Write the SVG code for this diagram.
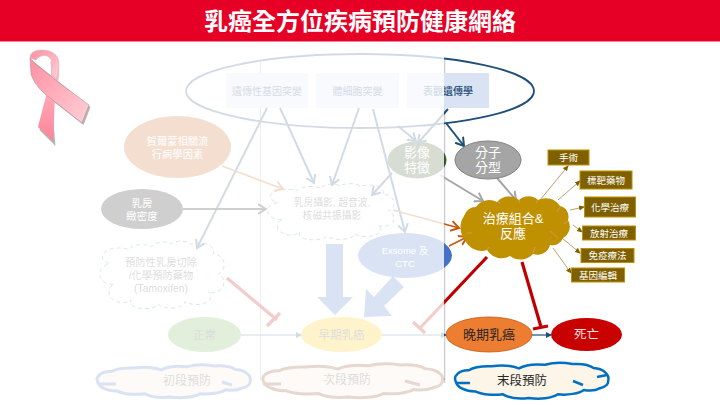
<svg xmlns="http://www.w3.org/2000/svg" xmlns:xlink="http://www.w3.org/1999/xlink" width="720" height="405" viewBox="0 0 720 405">
<style>
text{font-family:"Liberation Sans","Noto Sans CJK TC",sans-serif;text-anchor:middle}
.w{fill:#fff}.d{fill:#505050}
.box{fill:#dae3f3}
.tag rect{fill:#7f6000;stroke:#bf9000;stroke-width:1}
.tag text{fill:#fff;font-size:9.5px}
.thin{fill:none;stroke:#a58a45;stroke-width:.8;marker-end:url(#mT)}
.blue{fill:none;stroke:#1f4e79;stroke-width:2;marker-end:url(#mB)}
.gray{fill:none;stroke:#a5a5a5;stroke-width:2;marker-end:url(#mG)}
.dark{fill:none;stroke:#111;stroke-width:2;marker-end:url(#mK)}
.or{fill:none;stroke:#c55a11;stroke-width:1.6;marker-end:url(#mO)}
.red{fill:none;stroke:#c00000;stroke-width:3.2}
.big{fill:#4472c4}
.cl{vector-effect:non-scaling-stroke}
.flow{stroke:#1f4e79;stroke-width:1.2;fill:none;marker-end:url(#mS)}
</style>
<defs>
<marker id="mT" markerWidth="6" markerHeight="6" refX="5" refY="3" orient="auto" markerUnits="userSpaceOnUse"><path d="M0 .4L6 3L0 5.600z" fill="#7f6000"/></marker>
<marker id="mB" markerWidth="10" markerHeight="12" refX="8" refY="6" orient="auto" markerUnits="userSpaceOnUse"><path d="M0 1L8 6L0 11" fill="none" stroke="#1f4e79" stroke-width="2"/></marker>
<marker id="mS" markerWidth="6" markerHeight="6" refX="5" refY="3" orient="auto" markerUnits="userSpaceOnUse"><path d="M0 0L6 3L0 6z" fill="#1f4e79"/></marker>
<marker id="mG" markerWidth="10" markerHeight="12" refX="8" refY="6" orient="auto" markerUnits="userSpaceOnUse"><path d="M0 1L8 6L0 11" fill="none" stroke="#a5a5a5" stroke-width="2"/></marker>
<marker id="mK" markerWidth="10" markerHeight="12" refX="8" refY="6" orient="auto" markerUnits="userSpaceOnUse"><path d="M0 1L8 6L0 11" fill="none" stroke="#111" stroke-width="2"/></marker>
<marker id="mO" markerWidth="10" markerHeight="12" refX="8" refY="6" orient="auto" markerUnits="userSpaceOnUse"><path d="M0 1L8 6L0 11" fill="none" stroke="#c55a11" stroke-width="2"/></marker>
<linearGradient id="rb1" x1="0" y1="0" x2="1" y2="1"><stop offset="0" stop-color="#ff8fa3"/><stop offset="1" stop-color="#ffd0d6"/></linearGradient>
<linearGradient id="rb2" x1="0" y1="0" x2="0" y2="1"><stop offset="0" stop-color="#ffc4cd"/><stop offset="1" stop-color="#ff8297"/></linearGradient>
<path id="cloud" class="cl" d="M12 64A9 14 0 0 1 9 36A13 12 0 0 1 24 16A11 10 0 0 1 42 12A9 9 0 0 1 57 8A10 10 0 0 1 73 9A11 12 0 0 1 90 22A9 15 0 0 1 94 50A8 13 0 0 1 86 74A10 10 0 0 1 68 88A11 9 0 0 1 47 92A11 9 0 0 1 26 86A9 13 0 0 1 12 64Z"/>
<path id="wide" class="cl" d="M3 52A8 24 0 0 1 11 20A14 20 0 0 1 25 9A14 20 0 0 1 42 15A14 22 0 0 1 58 5A14 20 0 0 1 75 3A12 20 0 0 1 88 14A10 30 0 0 1 97 50A10 22 0 0 1 92 70A8 14 0 0 1 82 75A14 24 0 0 1 66 87A14 24 0 0 1 48 97A14 24 0 0 1 32 87A14 20 0 0 1 15 79A12 30 0 0 1 3 52Z"/>
</defs>
<rect width="720" height="405" fill="#fff"/>
<g id="title"><rect width="720" height="41.500" fill="#e60026"/><text x="360" y="29.500" font-size="24" font-weight="700" fill="#fff">乳癌全方位疾病預防健康網絡</text></g>
<path d="M260.500 60V380" stroke="#b0b0b0" stroke-width="1"/>
<path d="M444.500 60V383" stroke="#c9ced4" stroke-width="1.600"/>
<g id="n-epi-ring"><ellipse cx="360" cy="91" rx="174" ry="37" fill="none" stroke="#1f4e79" stroke-width="1.800"/></g>
<g id="n-germline"><rect class="box" x="226" y="73" width="82" height="35"/><text x="267" y="94.500" font-size="10" fill="#1f4e79">遺傳性基因突變</text></g>
<g id="n-somatic"><rect class="box" x="316" y="73" width="83" height="35"/><text x="357.500" y="94.500" font-size="10" fill="#1f4e79">體細胞突變</text></g>
<g id="n-epigen"><rect class="box" x="407" y="73" width="82" height="35"/><text x="448" y="94.500" font-size="10" font-weight="500" fill="#1f4e79">表觀遺傳學</text></g>
<g id="n-hormone"><ellipse cx="177.500" cy="147" rx="53.500" ry="31" fill="#c55a11"/><text font-size="10.300" class="w"><tspan x="177.500" y="145">賀爾蒙相關流</tspan><tspan x="177.500" y="158">行病學因素</tspan></text></g>
<g id="n-density"><ellipse cx="142" cy="209" rx="41" ry="20" fill="#111"/><text font-size="10.500" class="w"><tspan x="142" y="207">乳房</tspan><tspan x="142" y="220">緻密度</tspan></text></g>
<g id="n-imaging"><use xlink:href="#cloud" href="#cloud" transform="translate(266 181) scale(1.3 .6)" fill="#fff" stroke="#4472c4" stroke-width="1" stroke-dasharray="4 3"/><text font-size="9.800" class="d"><tspan x="332" y="206">乳房攝影, 超音波,</tspan><tspan x="332" y="219">核磁共振攝影</tspan></text></g>
<g id="n-feature"><ellipse cx="417" cy="160" rx="29.500" ry="18.500" fill="#375623"/><text font-size="13" class="w"><tspan x="417" y="157">影像</tspan><tspan x="417" y="172">特徵</tspan></text></g>
<g id="n-exome"><ellipse cx="405" cy="255.500" rx="47" ry="22.500" fill="#4472c4"/><text font-size="9.500" class="w"><tspan x="405" y="254">Exsome  及</tspan><tspan x="405" y="267">CTC</tspan></text></g>
<g id="n-prevent"><use xlink:href="#cloud" href="#cloud" transform="translate(98 238) scale(1.28 .72)" fill="#fff" stroke="#4472c4" stroke-width="1" stroke-dasharray="4 3"/><text font-size="10.300" class="d"><tspan x="161" y="266">預防性乳房切除</tspan><tspan x="161" y="279">/化學預防藥物</tspan><tspan x="161" y="292">(Tamoxifen)</tspan></text></g>
<g id="n-normal"><ellipse cx="204.500" cy="334.500" rx="36.500" ry="17.500" fill="#70ad47"/><text x="204.500" y="338.500" font-size="11.500" class="d">正常</text></g>
<g id="n-early"><ellipse cx="341.500" cy="334.500" rx="40.500" ry="17.500" fill="#ffc000"/><text x="341.500" y="338.500" font-size="11.500" class="d">早期乳癌</text></g>
<g id="n-stage1"><use xlink:href="#wide" href="#wide" transform="translate(93 365) scale(1.62 .33)" fill="#fbe5d6" stroke="#4472c4" stroke-width="3"/><path d="M98 384H116M222 382L232 385" fill="none" stroke="#4472c4" stroke-width="3"/><text x="187" y="385" font-size="12" class="d">初段預防</text></g>
<g id="n-stage2"><use xlink:href="#wide" href="#wide" transform="translate(258 364) scale(1.9 .34)" fill="#fbe5d6" stroke="#843c0c" stroke-width="3"/><path d="M263 384H281M405 381L420 385" fill="none" stroke="#843c0c" stroke-width="3"/><text x="347" y="384" font-size="12" class="d">次段預防</text></g>
<g id="connectors">
<path class="blue" d="M267 108L197 248"/>
<path class="blue" d="M280 108L314 183"/>
<path class="blue" d="M359 108L332 185"/>
<path class="blue" d="M373 109L405 232"/>
<path class="blue" d="M398 126L416 141"/>
<path class="blue" d="M448 109L418 143"/>
<path class="blue" d="M392 173L372 195"/>
<path class="blue" stroke-width="2.200" d="M446 123L464 146"/>
<path class="or" d="M222 166L283 189"/>
<path class="dark" d="M183 209L266 209"/>
<path class="gray" d="M440 175L483 201"/>
<path class="gray" d="M497 178L516 200"/>
<path class="or" d="M393 210L459 228"/>
<path class="or" d="M449 246L467 237"/>
<path class="thin" d="M540 200L568 166"/>
<path class="thin" d="M558 200L580 181"/>
<path class="thin" d="M570 210L584 207"/>
<path class="thin" d="M573 225L582 232"/>
<path class="thin" d="M562 238L580 253"/>
<path class="thin" d="M553 248L571 273"/>
<path class="red" d="M487 257L420 328M413 322L425 333"/>
<path class="red" d="M522 262L541 327M533 329L548 326"/>
<path class="red" d="M227 278L277 320M267 326L280 313"/>
<path class="flow" d="M241 335H301"/>
<path class="flow" d="M382 335H446"/>
<path class="flow" d="M532 335H551"/>
<path class="big" d="M326 244H343V297H353L335 315L317 297H326Z"/>
<path class="big" d="M393 276L404 287L384 306L392 316L364 317L366 289L374 297Z"/>
</g>
<rect id="fade" x="0" y="42" width="444" height="363" fill="#fff" fill-opacity=".8"/>
<g id="n-subtype"><ellipse cx="488" cy="160" rx="33" ry="19" fill="#a5a5a5" stroke="#7f7f7f" stroke-width="1"/><text font-size="13" class="w"><tspan x="488" y="157">分子</tspan><tspan x="488" y="172">分型</tspan></text></g>
<g id="n-treat"><path d="M465 240A20 20 0 0 1 464 216A12 12 0 0 1 476 207A16 16 0 0 1 497 202A16 16 0 0 1 519 200A14 14 0 0 1 538 200A17 17 0 0 1 560 206A11 11 0 0 1 568 220A13 13 0 0 1 563 238A11 11 0 0 1 550 245A13 13 0 0 1 533 254A17 17 0 0 1 510 256A17 17 0 0 1 487 250A18 18 0 0 1 465 240Z" fill="#bf9000"/><path d="M467 233H472M498 201L500 204M519 200L520 203M538 200L536 203M560 207L557 212M568 221L564 224M550 231L558 238M533 253L535 247M487 250L489 247" fill="none" stroke="#e8927c" stroke-width=".8"/><text font-size="13" class="w"><tspan x="513" y="223">治療組合&amp;</tspan><tspan x="513" y="238">反應</tspan></text></g>
<g id="n-t1" class="tag"><rect x="548" y="150" width="41" height="15"/><text x="568.500" y="161">手術</text></g>
<g id="n-t2" class="tag"><rect x="580" y="171" width="52" height="18"/><text x="606" y="183.500">標靶藥物</text></g>
<g id="n-t3" class="tag"><rect x="584.500" y="197" width="51" height="20"/><text x="610" y="210.500">化學治療</text></g>
<g id="n-t4" class="tag"><rect x="582.500" y="226" width="53" height="14"/><text x="609" y="236.500">放射治療</text></g>
<g id="n-t5" class="tag"><rect x="581" y="248.500" width="53" height="14"/><text x="607.500" y="259">免疫療法</text></g>
<g id="n-t6" class="tag"><rect x="571.500" y="268" width="53" height="14"/><text x="598" y="278.500">基因編輯</text></g>
<g id="n-late"><ellipse cx="489" cy="334.500" rx="43" ry="17.500" fill="#ed7d31" stroke="#c55a11" stroke-width=".8"/><text x="489" y="339" font-size="13" fill="#262626">晚期乳癌</text></g>
<g id="n-death"><ellipse cx="586.500" cy="334.500" rx="35.500" ry="16.500" fill="#c80000"/><text x="586.500" y="339" font-size="12.500" fill="#ffe0e0">死亡</text></g>
<g id="n-stage3"><use xlink:href="#wide" href="#wide" transform="translate(451 363) scale(1.62 .36)" fill="#fdf5e8" stroke="#0070c0" stroke-width="2.500"/><path d="M457 383H470M573 381L583 385M597 377L607 375" fill="none" stroke="#0070c0" stroke-width="2.500"/><text x="522" y="384.500" font-size="12.500" fill="#262626">末段預防</text></g>
<g id="ribbon">
<path d="M30 58L89 105L82 123L50 98L54 144L38 128L47 90C38 84 33 78 31 74Z" fill="#777" opacity=".55" transform="translate(1.500 2)"/>
<path d="M58 62C61 72 58 84 55 96L53 141L38 127L47 92C50 80 53 72 50 62Z" fill="url(#rb2)"/>
<path d="M30 58C30 52 36 50 42 50C52 50 60 55 59 66C59 72 57 76 56 80L51 72C52 68 53 62 50 58C46 54 40 55 36 60Z" fill="url(#rb1)" stroke="#bbb" stroke-width=".5"/>
<path d="M30 58C33 62 38 66 46 72L58 82L89 105L82 123L50 98C42 92 34 84 31 74Z" fill="url(#rb1)" stroke="#a88" stroke-width=".5"/>
</g>
</svg>
